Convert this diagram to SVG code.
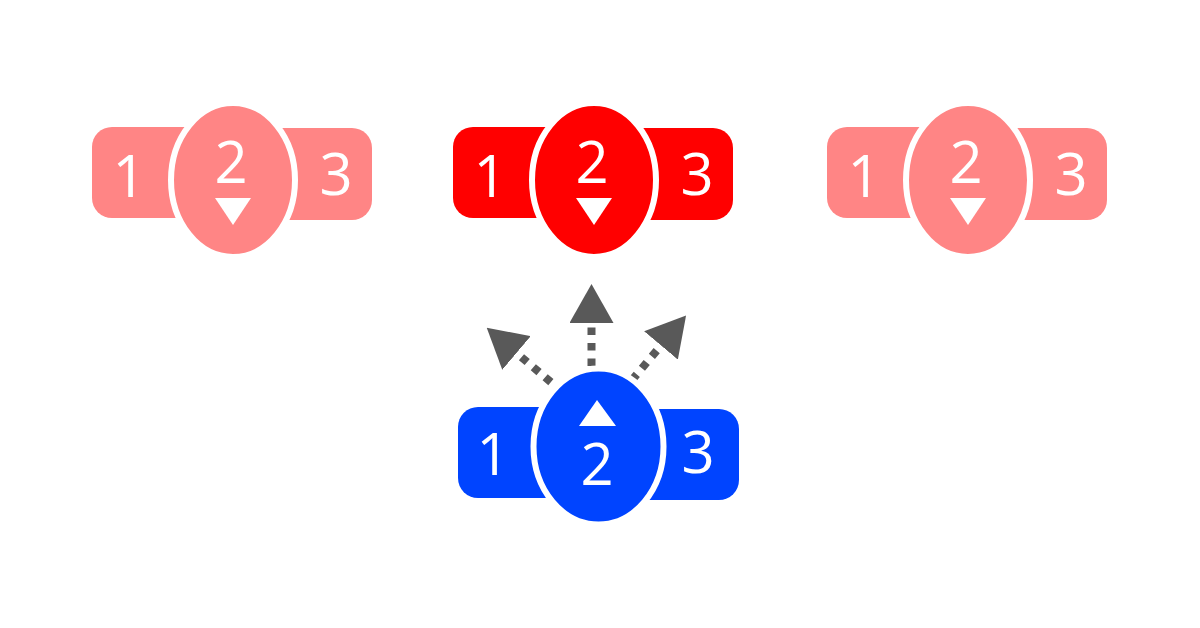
<svg xmlns="http://www.w3.org/2000/svg" width="1200" height="628" viewBox="0 0 1200 628">
<style>
.t{font-family:"Open Sans","Liberation Sans",sans-serif;font-size:58px;fill:#fff;text-anchor:middle}
.pink{fill:#FF8585}
.red{fill:#FF0000}
.blue{fill:#0044FF}
.ell{stroke:#fff;stroke-width:6}
.tri{fill:#fff}
.con{fill:none;stroke:#595959;stroke-width:8;stroke-dasharray:7.5 8}
</style>
<defs>
<marker id="ah" viewBox="0 0 39 44" refX="0" refY="22" markerWidth="39" markerHeight="44" markerUnits="userSpaceOnUse" orient="auto">
<path d="M0,0 L39,22 L0,44 Z" fill="#595959"/>
</marker>
</defs>
<rect width="1200" height="628" fill="#fff"/>
<g id="connectors">
<line class="con" x1="591.5" y1="366" x2="591.5" y2="323" marker-end="url(#ah)"/>
<line class="con" x1="562.7" y1="392.1" x2="516.5" y2="353" marker-end="url(#ah)"/>
<line class="con" x1="622" y1="392" x2="661" y2="345.5" marker-end="url(#ah)"/>
</g>
<g id="node-left">
<rect class="pink" x="92" y="127" width="120" height="91" rx="20"/>
<rect class="pink" x="254" y="128" width="118" height="92" rx="20"/>
<ellipse class="pink ell" cx="233" cy="180" rx="62" ry="77"/>
<text class="t" x="129" y="197">1</text>
<text class="t" x="231" y="183">2</text>
<text class="t" x="336" y="195">3</text>
<polygon class="tri" points="215,198 251,198 233,225"/>
</g>
<g id="node-center">
<rect class="red" x="453" y="127" width="120" height="91" rx="20"/>
<rect class="red" x="615" y="128" width="118" height="92" rx="20"/>
<ellipse class="red ell" cx="594" cy="180" rx="62" ry="77"/>
<text class="t" x="490" y="197">1</text>
<text class="t" x="592" y="183">2</text>
<text class="t" x="697" y="195">3</text>
<polygon class="tri" points="576,198 612,198 594,225"/>
</g>
<g id="node-right">
<rect class="pink" x="827" y="127" width="120" height="91" rx="20"/>
<rect class="pink" x="989" y="128" width="118" height="92" rx="20"/>
<ellipse class="pink ell" cx="968" cy="180" rx="62" ry="77"/>
<text class="t" x="864" y="197">1</text>
<text class="t" x="966" y="183">2</text>
<text class="t" x="1071" y="195">3</text>
<polygon class="tri" points="950,198 986,198 968,225"/>
</g>
<g id="node-bottom">
<rect class="blue" x="458" y="407" width="120" height="91" rx="20"/>
<rect class="blue" x="620" y="409" width="119" height="91" rx="20"/>
<ellipse class="blue ell" cx="598.5" cy="446.5" rx="65" ry="78"/>
<text class="t" x="493" y="475">1</text>
<text class="t" x="597" y="485">2</text>
<text class="t" x="698" y="473">3</text>
<polygon class="tri" points="597,400 616,426 579,426"/>
</g>
</svg>
